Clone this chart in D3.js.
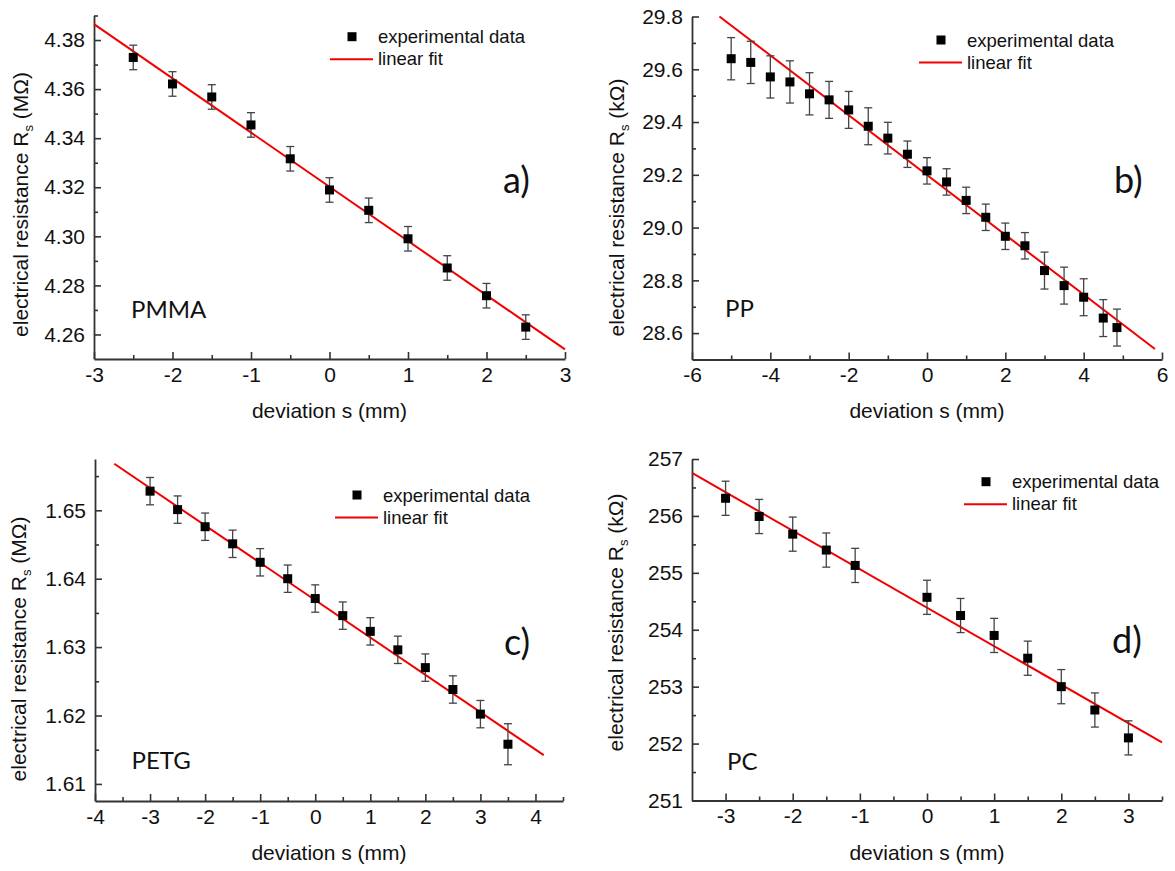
<!DOCTYPE html>
<html>
<head>
<meta charset="utf-8">
<script src="https://cdn.jsdelivr.net/npm/d3@7"></script>
<style>
  body { margin: 0; background: #fff; }
  svg { display: block; }
  .tick text { font-family: Arial, "Liberation Sans", sans-serif; }
</style>
</head>
<body>
<div class="viz"></div>
<script>
// ---- data ----
// a) PMMA, R in MOhm
var pmmaX = [-2.5, -2, -1.5, -1, -0.5, 0, 0.5, 1, 1.5, 2, 2.5];
var pmmaY = [4.3729, 4.3621, 4.3568, 4.3454, 4.3316, 4.3189, 4.3106, 4.2990, 4.2871, 4.2758, 4.2630];
var pmmaErr = [0.005, 0.005, 0.005, 0.005, 0.005, 0.005, 0.005, 0.005, 0.005, 0.005, 0.005];
var pmmaFitX = [-3, 3];
var pmmaFitY = [4.3865, 4.2539];

// b) PP, R in kOhm
var ppX = [-5, -4.5, -4, -3.5, -3, -2.5, -2, -1.5, -1, -0.5, 0, 0.5, 1, 1.5, 2, 2.5, 3, 3.5, 4, 4.5, 4.85];
var ppY = [29.640, 29.626, 29.571, 29.552, 29.507, 29.484, 29.446, 29.384, 29.339, 29.278, 29.215,
           29.173, 29.103, 29.039, 28.967, 28.931, 28.837, 28.780, 28.736, 28.657, 28.621];
var ppErr = [0.08, 0.08, 0.08, 0.08, 0.08, 0.07, 0.07, 0.07, 0.06, 0.05, 0.05,
             0.05, 0.05, 0.05, 0.05, 0.05, 0.07, 0.07, 0.07, 0.07, 0.07];
var ppFitX = [-5.3, 5.82];
var ppFitY = [29.8, 28.54];

// c) PETG, R in MOhm
var petgX = [-3, -2.5, -2, -1.5, -1, -0.5, 0, 0.5, 1, 1.5, 2, 2.5, 3, 3.5];
var petgY = [1.6528, 1.6501, 1.6476, 1.6451, 1.6424, 1.6400, 1.6371, 1.6346, 1.6323, 1.6296, 1.6270, 1.6238, 1.6202, 1.6158];
var petgErr = [0.002, 0.002, 0.002, 0.002, 0.002, 0.002, 0.002, 0.002, 0.002, 0.002, 0.002, 0.002, 0.002, 0.003];
var petgFitX = [-3.65, 4.15];
var petgFitY = [1.6568, 1.6142];

// d) PC, R in kOhm
var pcX = [-3, -2.5, -2, -1.5, -1.07, 0, 0.5, 1, 1.5, 2, 2.5, 3];
var pcY = [256.31, 255.99, 255.68, 255.40, 255.13, 254.57, 254.25, 253.90, 253.50, 253.00, 252.59, 252.10];
var pcErr = [0.3, 0.3, 0.3, 0.3, 0.3, 0.3, 0.3, 0.3, 0.3, 0.3, 0.3, 0.3];
var pcFitX = [-3.5, 3.5];
var pcFitY = [256.755, 252.02];

// tick values
var pmmaXTicks = [-3, -2, -1, 0, 1, 2, 3];
var pmmaXMinor = [-2.5, -1.5, -0.5, 0.5, 1.5, 2.5];
var pmmaYTicks = [4.26, 4.28, 4.30, 4.32, 4.34, 4.36, 4.38];
var pmmaYMinor = [4.27, 4.29, 4.31, 4.33, 4.35, 4.37, 4.39];
var ppXTicks = [-6, -4, -2, 0, 2, 4, 6];
var ppXMinor = [-5, -3, -1, 1, 3, 5];
var ppYTicks = [28.6, 28.8, 29.0, 29.2, 29.4, 29.6, 29.8];
var ppYMinor = [28.7, 28.9, 29.1, 29.3, 29.5, 29.7];
var petgXTicks = [-4, -3, -2, -1, 0, 1, 2, 3, 4];
var petgXMinor = [-3.5, -2.5, -1.5, -0.5, 0.5, 1.5, 2.5, 3.5, 4.5];
var petgYTicks = [1.61, 1.62, 1.63, 1.64, 1.65];
var petgYMinor = [1.615, 1.625, 1.635, 1.645, 1.655];
var pcXTicks = [-3, -2, -1, 0, 1, 2, 3];
var pcXMinor = [-2.5, -1.5, -0.5, 0.5, 1.5, 2.5, 3.5];
var pcYTicks = [251, 252, 253, 254, 255, 256, 257];
var pcYMinor = [251.5, 252.5, 253.5, 254.5, 255.5, 256.5];

var panels = [
  {name: "PMMA", letter: "a)", unit: "M\u03A9", x: pmmaX, y: pmmaY, err: pmmaErr, fitX: pmmaFitX, fitY: pmmaFitY,
   xDom: [-3, 3], yDom: [4.25, 4.39], xTicks: pmmaXTicks, xMinor: pmmaXMinor, yTicks: pmmaYTicks, yMinor: pmmaYMinor, yFmt: ".2f",
   box: {left: 94, right: 565, top: 15.5, bottom: 359},
   leg: [352, 36.7], lab: [131, 317.5], let: [503, 193], ytitle: [28, 204.5], xtitle: 418},
  {name: "PP", letter: "b)", unit: "k\u03A9", x: ppX, y: ppY, err: ppErr, fitX: ppFitX, fitY: ppFitY,
   xDom: [-6, 6], yDom: [28.5, 29.8], xTicks: ppXTicks, xMinor: ppXMinor, yTicks: ppYTicks, yMinor: ppYMinor, yFmt: ".1f",
   box: {left: 692, right: 1162, top: 16.5, bottom: 359.5},
   leg: [941, 40], lab: [725, 316.7], let: [1114, 193], ytitle: [624, 207.5], xtitle: 418},
  {name: "PETG", letter: "c)", unit: "M\u03A9", x: petgX, y: petgY, err: petgErr, fitX: petgFitX, fitY: petgFitY,
   xDom: [-4, 4.5], yDom: [1.6075, 1.6575], xTicks: petgXTicks, xMinor: petgXMinor, yTicks: petgYTicks, yMinor: petgYMinor, yFmt: ".2f",
   box: {left: 95, right: 563, top: 459, bottom: 801},
   leg: [357, 495], lab: [131.5, 769.3], let: [504, 655], ytitle: [26, 649], xtitle: 860},
  {name: "PC", letter: "d)", unit: "k\u03A9", x: pcX, y: pcY, err: pcErr, fitX: pcFitX, fitY: pcFitY,
   xDom: [-3.5, 3.5], yDom: [251, 257], xTicks: pcXTicks, xMinor: pcXMinor, yTicks: pcYTicks, yMinor: pcYMinor, yFmt: "d",
   box: {left: 692, right: 1162, top: 459, bottom: 800.5},
   leg: [986, 481.7], lab: [727, 770], let: [1112, 653], ytitle: [623, 622.5], xtitle: 860}
];

var svg = d3.select(".viz")
  .append("svg")
    .attr("width", 1175)
    .attr("height", 871);

var axisColor = "#333",
    font = "Arial, 'Liberation Sans', sans-serif",
    labelFont = "Lato, 'Open Sans', sans-serif";

panels.forEach(drawPanel);

function drawPanel(p) {
  var b = p.box;
  var x = d3.scaleLinear().domain(p.xDom).range([b.left, b.right]);
  var y = d3.scaleLinear().domain(p.yDom).range([b.bottom, b.top]);
  var g = svg.append("g");

  // minor ticks (inward)
  g.append("g")
    .attr("transform", "translate(0," + b.bottom + ")")
    .call(d3.axisBottom(x).tickValues(p.xMinor).tickSizeInner(-4).tickSizeOuter(0).tickFormat(""))
    .call(s => s.select(".domain").remove());
  g.append("g")
    .attr("transform", "translate(" + b.left + ",0)")
    .call(d3.axisLeft(y).tickValues(p.yMinor).tickSizeInner(-4).tickSizeOuter(0).tickFormat(""))
    .call(s => s.select(".domain").remove());

  // major ticks + labels
  var xa = g.append("g")
    .attr("transform", "translate(0," + b.bottom + ")")
    .call(d3.axisBottom(x).tickValues(p.xTicks).tickSizeInner(-7).tickSizeOuter(0).tickPadding(8)
      .tickFormat(d => String(d)));
  var ya = g.append("g")
    .attr("transform", "translate(" + b.left + ",0)")
    .call(d3.axisLeft(y).tickValues(p.yTicks).tickSizeInner(-7).tickSizeOuter(0).tickPadding(9)
      .tickFormat(d3.format(p.yFmt)));

  g.selectAll(".tick line").attr("stroke", axisColor).attr("stroke-width", 1.6);
  g.selectAll(".domain").attr("stroke", axisColor).attr("stroke-width", 1.8);
  [xa, ya].forEach(a => a.selectAll("text").attr("fill", "#111").style("font-size", "21px"));

  // axis titles
  g.append("text")
    .attr("x", (b.left + b.right) / 2)
    .attr("y", p.xtitle)
    .attr("text-anchor", "middle")
    .attr("font-family", font)
    .attr("font-size", 21)
    .attr("fill", "#111")
    .text("deviation s (mm)");

  var yt = g.append("text")
    .attr("transform", "translate(" + p.ytitle[0] + "," + p.ytitle[1] + ") rotate(-90)")
    .attr("text-anchor", "middle")
    .attr("font-family", font)
    .attr("font-size", 21)
    .attr("fill", "#111");
  yt.append("tspan").text("electrical resistance R");
  yt.append("tspan").attr("font-size", 13).attr("dy", 5).text("s");
  yt.append("tspan").attr("dy", -5).text(" (" + p.unit + ")");

  // fit line
  var fit = p.fitX.map((v, i) => [v, p.fitY[i]]);
  g.append("path")
    .datum(fit)
    .attr("fill", "none")
    .attr("stroke", "#f00000")
    .attr("stroke-width", 2)
    .attr("d", d3.line().x(d => x(d[0])).y(d => y(d[1])));

  // error bars
  var pts = p.x.map((v, i) => ({x: v, y: p.y[i], e: p.err[i]}));
  var eb = g.append("g").attr("stroke", "#444").attr("stroke-width", 1.3);
  eb.selectAll("line.v").data(pts).join("line")
    .attr("x1", d => x(d.x)).attr("x2", d => x(d.x))
    .attr("y1", d => y(d.y - d.e)).attr("y2", d => y(d.y + d.e));
  eb.selectAll("line.t").data(pts).join("line")
    .attr("x1", d => x(d.x) - 4).attr("x2", d => x(d.x) + 4)
    .attr("y1", d => y(d.y + d.e)).attr("y2", d => y(d.y + d.e));
  eb.selectAll("line.b").data(pts).join("line")
    .attr("x1", d => x(d.x) - 4).attr("x2", d => x(d.x) + 4)
    .attr("y1", d => y(d.y - d.e)).attr("y2", d => y(d.y - d.e));

  // markers
  g.append("g").selectAll("rect").data(pts).join("rect")
    .attr("x", d => x(d.x) - 4.5)
    .attr("y", d => y(d.y) - 4.5)
    .attr("width", 9)
    .attr("height", 9)
    .attr("fill", "#000");

  // legend
  var lx = p.leg[0], ly = p.leg[1];
  g.append("rect")
    .attr("x", lx - 4.5).attr("y", ly - 4.5)
    .attr("width", 9).attr("height", 9)
    .attr("fill", "#000");
  g.append("text")
    .attr("x", lx + 26).attr("y", ly + 6.5)
    .attr("font-family", font).attr("font-size", 18.5).attr("fill", "#111")
    .text("experimental data");
  g.append("line")
    .attr("x1", lx - 22).attr("x2", lx + 21)
    .attr("y1", ly + 22.5).attr("y2", ly + 22.5)
    .attr("stroke", "#f00000").attr("stroke-width", 2);
  g.append("text")
    .attr("x", lx + 26).attr("y", ly + 28.5)
    .attr("font-family", font).attr("font-size", 18.5).attr("fill", "#111")
    .text("linear fit");

  // material name and panel letter
  g.append("text")
    .attr("x", p.lab[0]).attr("y", p.lab[1])
    .attr("font-family", labelFont).attr("font-size", 24).attr("fill", "#111")
    .text(p.name);
  g.append("text")
    .attr("x", p.let[0]).attr("y", p.let[1])
    .attr("font-family", labelFont).attr("font-size", 36).attr("fill", "#111")
    .text(p.letter);
}
</script>
</body>
</html>
